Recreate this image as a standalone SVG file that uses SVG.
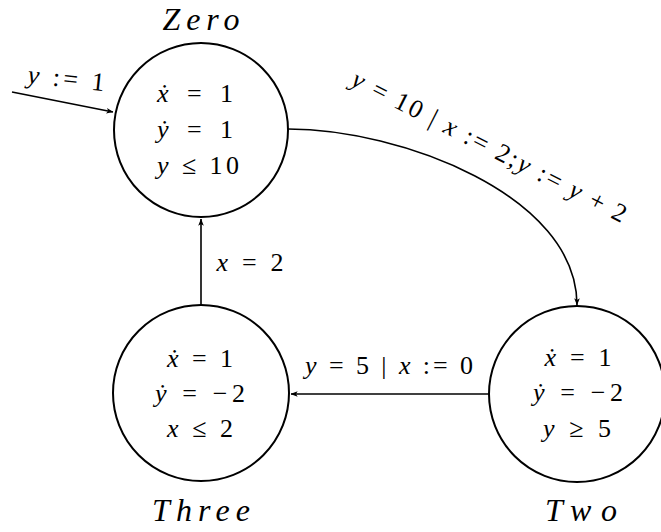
<svg xmlns="http://www.w3.org/2000/svg" width="661" height="532" viewBox="0 0 661 532">
<style>
text{font-family:"Liberation Serif","DejaVu Serif",serif;fill:#000}
.t{font-size:26px;text-anchor:middle}
.n{font-size:32px;font-style:italic;text-anchor:middle}
.i{font-style:italic}
.c{fill:#fff;stroke:#000;stroke-width:2}
.e{fill:none;stroke:#000;stroke-width:1.6}
</style>
<defs>
<marker id="a" viewBox="0 0 10 10" refX="9.5" refY="5" markerWidth="7" markerHeight="7" orient="auto" markerUnits="userSpaceOnUse">
<path d="M0,1 L10,5 L0,9 L2.5,5 z" fill="#000"/>
</marker>
</defs>
<g id="edges">
<path class="e" d="M12,92 L113,112" marker-end="url(#a)"/>
<path class="e" d="M288,129 C400,129 577,195 577,305" marker-end="url(#a)"/>
<path class="e" d="M489,394 L291,394" marker-end="url(#a)"/>
<path class="e" d="M201,305 L201,219" marker-end="url(#a)"/>
<text class="t" x="66" y="87" textLength="77" lengthAdjust="spacing" transform="rotate(6 66 80)"><tspan class="i">y</tspan> := 1</text>
<text class="t" x="486" y="154" textLength="305" lengthAdjust="spacing" transform="rotate(27 486 153)"><tspan class="i">y</tspan> = 10 | <tspan class="i">x</tspan> := 2;<tspan class="i">y</tspan> := <tspan class="i">y</tspan> + 2</text>
<text class="t" x="250" y="271" textLength="67" lengthAdjust="spacing"><tspan class="i">x</tspan> = 2</text>
<text class="t" x="389" y="374" textLength="168" lengthAdjust="spacing"><tspan class="i">y</tspan> = 5 | <tspan class="i">x</tspan> := 0</text>
</g>
<g id="zero">
<circle class="c" cx="201" cy="130" r="87"/>
<text class="n" x="201" y="30" textLength="77" lengthAdjust="spacing">Zero</text>
<text class="t" x="195" y="102" textLength="76" lengthAdjust="spacing"><tspan class="i">ẋ</tspan> = 1</text>
<text class="t" x="195" y="138" textLength="76" lengthAdjust="spacing"><tspan class="i">ẏ</tspan> = 1</text>
<text class="t" x="198" y="174" textLength="82" lengthAdjust="spacing"><tspan class="i">y</tspan> ≤ 10</text>
</g>
<g id="three">
<circle class="c" cx="201" cy="393" r="88"/>
<text class="n" x="201" y="521" textLength="98" lengthAdjust="spacing">Three</text>
<text class="t" x="200" y="367" textLength="66" lengthAdjust="spacing"><tspan class="i">ẋ</tspan> = 1</text>
<text class="t" x="200" y="402" textLength="90" lengthAdjust="spacing"><tspan class="i">ẏ</tspan> = −2</text>
<text class="t" x="200" y="437" textLength="66" lengthAdjust="spacing"><tspan class="i">x</tspan> ≤ 2</text>
</g>
<g id="two">
<circle class="c" cx="577" cy="394" r="88"/>
<text class="n" x="581" y="521" textLength="72" lengthAdjust="spacing">Two</text>
<text class="t" x="578" y="366" textLength="67" lengthAdjust="spacing"><tspan class="i">ẋ</tspan> = 1</text>
<text class="t" x="578" y="401" textLength="90" lengthAdjust="spacing"><tspan class="i">ẏ</tspan> = −2</text>
<text class="t" x="577" y="437" textLength="68" lengthAdjust="spacing"><tspan class="i">y</tspan> ≥ 5</text>
</g>
</svg>
